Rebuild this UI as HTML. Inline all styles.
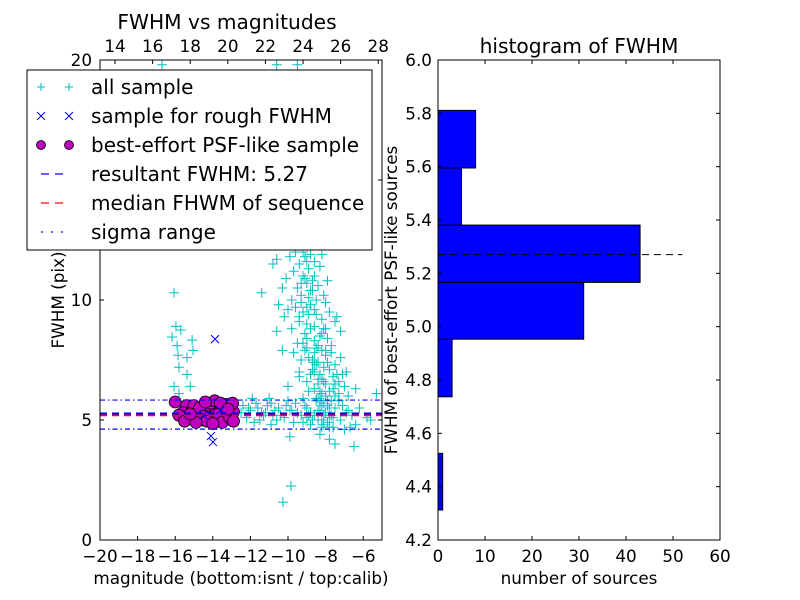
<!DOCTYPE html>
<html><head><meta charset="utf-8"><style>
html,body{margin:0;padding:0;background:#fff;}
svg{display:block;font-family:"DejaVu Sans","Liberation Sans",sans-serif;}
</style></head><body>
<svg id="fig" width="800" height="600" viewBox="0 0 800 600" xmlns="http://www.w3.org/2000/svg">
<rect width="800" height="600" fill="#fff"/>
<g id="left"></g>
<g id="right"></g>
</svg>
<script>
// ---------- scatter data ----------
const allMag = [-9.3,-9.0,-8.7,-9.1,-8.8,-9.5,-8.4,-10.8,-10.6,-9.9,-9.6,-8.2,
-9.7,-9.4,-9.2,-8.9,-8.6,-9.0,-9.5,-8.7,-9.3,-8.4,-10.1,-11.4,-10.5,-9.8,-8.1,-7.9,-9.1,-8.3,-10.3,
-9.6,-9.2,-8.8,-8.5,-9.4,-9.0,-8.6,-8.2,-9.8,-10.2,-10.6,-7.8,-7.5,-9.1,-8.3,-10.0,-8.0,-7.2,
-9.5,-9.0,-8.6,-8.2,-8.9,-8.4,-8.0,-9.3,-7.7,-7.5,-9.7,-8.7,-8.1,-7.2,-6.9,-10.3,-8.5,-7.9,
-8.8,-8.4,-8.0,-7.6,-8.6,-8.2,-7.8,-7.3,-7.0,-9.0,-8.9,-7.5,-6.8,-9.4,-10.0,-7.1,-6.4,-5.3,
-12.4,-12.0,-11.7,-11.4,-11.1,-10.8,-10.5,-10.2,-9.9,-9.6,-9.3,-9.0,-8.7,-8.4,-8.1,-7.8,-7.5,-7.2,-6.9,-6.6,-6.2,-5.8,
-12.2,-11.9,-11.5,-11.0,-10.6,-10.0,-9.7,-9.2,-8.8,-8.5,-8.2,-7.9,-7.6,-7.3,-7.0,-6.7,-8.3,-7.8,-7.5,-9.9,-10.9,-11.8,-12.5,-6.4,-5.6,
-9.84,-10.27,-6.49,-16.7,-10.6,-9.5,
-16.06,-15.96,-16.17,-15.7,-15.1,-15.05,-15.85,-15.8,-15.37,-15.37,-15.2,-16.06,-15.8,-15.9,
-9.2,-9.0,-8.8,-9.1,-8.9,-9.3,-8.7,-9.4,-8.6,-9.0,-8.8,-9.2,-8.5,-9.1,-8.9,-8.7,-9.3,-8.6,-9.0,-8.8,
-8.4,-8.6,-8.2,-8.5,-8.3,-8.7,-8.1,-8.4,-8.6,-8.2,-8.0,-8.3,-8.5,-7.9,-8.1,-8.4,-7.8,-8.2,-8.0,-7.7,
-8.3,-8.1,-7.9,-7.6,-8.0,-7.8,-7.4,-7.7,-8.2,-7.5,-7.9,-7.3,-8.1,-7.6,-7.8,-8.4,-8.6,-8.8,-9.0,-9.2,
-11.6,-11.2,-10.9,-10.4,-10.1,-9.8,-9.5,-9.1,-8.9,-8.3,-7.7,-7.1,-6.8,-10.7,-11.3,-12.1,-9.4,-8.6,-8.0,-7.4];
const allFwhm = [13.2,12.9,13.4,12.5,12.2,12.4,12.7,11.5,11.7,11.8,12.0,11.9,
11.2,11.5,11.0,11.3,11.0,10.7,10.5,10.4,10.2,10.6,10.9,10.3,9.8,10.0,10.2,10.8,11.8,11.4,10.5,
9.7,9.5,9.8,9.4,9.1,9.0,8.9,9.2,8.8,9.3,8.7,9.5,9.1,8.6,8.5,9.6,9.9,8.7,
8.2,8.0,8.3,7.9,7.6,7.4,7.7,7.5,8.1,7.3,7.8,7.1,7.2,7.6,7.0,7.9,8.0,8.4,
6.9,6.7,6.5,6.8,6.3,6.1,6.2,6.6,6.4,6.6,6.2,6.0,6.0,6.8,6.4,6.9,6.3,6.1,
5.6,5.4,5.7,5.3,5.6,5.2,5.5,5.1,5.4,5.7,5.2,5.5,5.0,5.4,5.7,5.1,5.5,5.0,5.3,5.2,5.5,5.1,
5.1,5.9,5.0,5.9,5.0,5.8,4.9,5.9,4.8,5.9,4.7,5.8,4.7,5.8,4.6,4.7,4.4,4.2,4.0,4.3,4.8,4.9,5.3,4.8,5.0,
2.25,1.58,3.9,19.8,19.8,19.8,
10.3,8.9,8.46,8.75,8.33,7.9,7.7,7.2,7.6,6.9,6.4,6.4,6.1,8.1,
12.0,11.6,11.9,10.9,10.1,9.9,10.8,9.3,9.6,8.4,8.8,8.2,10.0,7.9,9.4,12.3,10.7,11.6,9.7,10.4,
8.1,7.8,8.6,7.3,6.9,7.5,8.8,6.5,7.0,6.7,7.9,6.2,5.8,7.4,6.6,5.9,7.1,5.6,6.0,7.8,
5.4,5.2,5.6,6.3,5.3,5.5,6.9,5.8,5.0,6.5,4.9,6.1,4.8,5.1,4.7,5.0,5.2,5.3,5.1,4.9,
5.5,5.3,5.7,5.2,5.6,5.4,5.3,5.6,5.2,5.8,5.2,5.6,5.4,5.4,5.2,5.5,7.0,7.4,8.8,9.3];
const roughMag = [-13.88,-14.1,-13.99,-14.5,-13.6];
const roughFwhm = [8.37,4.33,4.08,5.2,5.4];
const psfMag = [-16.0,-15.4,-15.1,-14.8,-14.6,-14.4,-14.2,-14.0,-13.8,-13.6,-13.4,-13.2,-13.0,-12.9,-15.6,-15.3,-15.0,-14.7,-14.5,-14.3,-14.1,-13.9,-13.7,-13.5,-13.3,-13.1,-12.95,-15.8,-15.5,-14.9,-14.0,-13.6,-12.9,-15.2,-14.4,-13.2];
const psfFwhm = [5.75,5.6,5.4,5.2,5.0,5.3,5.6,5.1,5.4,5.0,5.5,5.2,5.0,5.35,5.3,5.1,5.6,5.5,5.15,4.95,5.7,5.8,5.25,4.9,5.65,5.1,5.7,5.2,4.95,4.9,4.85,5.7,4.95,5.25,5.75,5.45];
const resultFwhm = 5.27;
const medianFwhm = 5.2;
const sigmaRange = [4.62, 5.83];
const bottomTicks = [-20,-18,-16,-14,-12,-10,-8,-6];
const topTicks = [14,16,18,20,22,24,26,28];
const leftYTicks = [0,5,10,15,20];
// ---------- histogram data ----------
const binEdges = [4.3125,4.525,4.737,4.953,5.166,5.381,5.595,5.811];
const binCounts = [1,0,3,31,43,5,8];
const histXTicks = [0,10,20,30,40,50,60];
const histYTicks = [4.2,4.4,4.6,4.8,5.0,5.2,5.4,5.6,5.8,6.0];

const NS='http://www.w3.org/2000/svg';
const TF=16.8, TT=20.2, LF=20;
function mk(parent,tag,attrs,text){const e=document.createElementNS(NS,tag);for(const k in attrs)e.setAttribute(k,attrs[k]);if(text!==undefined)e.textContent=text;parent.appendChild(e);return e;}
const fmt=v=>(v<0?'\u2212':'')+Math.abs(v);

// ---------- left panel ----------
const L=document.getElementById('left');
const lx0=100,lx1=382,ly0=60,ly1=540;
const sx=m=>lx0+(m+20)*(lx1-lx0)/15;
const sxTop=c=>sx(c-33.2);
const sy=f=>ly1-f*(ly1-ly0)/20;
let clip=mk(L,'clipPath',{id:'lclip'});mk(clip,'rect',{x:lx0,y:ly0,width:lx1-lx0,height:ly1-ly0});
const pts=mk(L,'g',{'clip-path':'url(#lclip)'});


for(let i=0;i<allMag.length;i++){const x=sx(allMag[i]),y=sy(allFwhm[i]);
 const p=mk(pts,'path',{d:`M${x-5},${y}H${x+5}M${x},${y-5}V${y+5}`,stroke:'#00bfbf','stroke-width':1,fill:'none'});
 
 }
for(let i=0;i<psfMag.length;i++){const c=mk(pts,'circle',{cx:sx(psfMag[i]),cy:sy(psfFwhm[i]),r:6,fill:'#bf00bf',stroke:'#000','stroke-width':0.8});
 
 }
for(let i=0;i<roughMag.length;i++){const x=sx(roughMag[i]),y=sy(roughFwhm[i]);
 const p=mk(pts,'path',{d:`M${x-4},${y-4}L${x+4},${y+4}M${x-4},${y+4}L${x+4},${y-4}`,stroke:'#0000ff','stroke-width':1});
 
 }
let ln=mk(pts,'line',{x1:lx0,x2:lx1,y1:sy(medianFwhm),y2:sy(medianFwhm),stroke:'#ff0000','stroke-width':2,'stroke-dasharray':'7,5'});

ln=mk(pts,'line',{x1:lx0,x2:lx1,y1:sy(resultFwhm),y2:sy(resultFwhm),stroke:'#0000ff','stroke-width':2,'stroke-dasharray':'7,5'});

for(const s of sigmaRange){ln=mk(pts,'line',{x1:lx0,x2:lx1,y1:sy(s),y2:sy(s),stroke:'#0000ff','stroke-width':1.2,'stroke-dasharray':'5,3,1.5,3'});
 }
mk(L,'rect',{x:lx0,y:ly0,width:lx1-lx0,height:ly1-ly0,fill:'none',stroke:'#000','stroke-width':1});
const tk=mk(L,'g',{stroke:'#000','stroke-width':1});
for(const t of bottomTicks){const x=sx(t);mk(tk,'line',{x1:x,x2:x,y1:ly1,y2:ly1-4});
 const e=mk(L,'text',{x:x,y:ly1+22,'text-anchor':'middle','font-size':TF},fmt(t));}
for(const t of topTicks){const x=sxTop(t);mk(tk,'line',{x1:x,x2:x,y1:ly0,y2:ly0+4});
 const e=mk(L,'text',{x:x,y:ly0-8,'text-anchor':'middle','font-size':TF},fmt(t));}
for(const t of leftYTicks){const y=sy(t);mk(tk,'line',{x1:lx0,x2:lx0+4,y1:y,y2:y});mk(tk,'line',{x1:lx1,x2:lx1-4,y1:y,y2:y});
 const e=mk(L,'text',{x:lx0-8,y:y+6,'text-anchor':'end','font-size':TF},fmt(t));}
let t=mk(L,'text',{x:227,y:29,'text-anchor':'middle','font-size':TT},'FWHM vs magnitudes');
t=mk(L,'text',{x:241,y:584,'text-anchor':'middle','font-size':TF},'magnitude (bottom:isnt / top:calib)');
t=mk(L,'text',{x:0,y:0,'text-anchor':'middle','font-size':TF,transform:'translate(64,300) rotate(-90)'},'FWHM (pix)');
// legend
const lg=mk(L,'g',{});

mk(lg,'rect',{x:27,y:70,width:345,height:180,fill:'#fff',stroke:'#000','stroke-width':1});
const labels=['all sample','sample for rough FWHM','best-effort PSF-like sample','resultant FWHM: 5.27','median FHWM of sequence','sigma range'];
labels.forEach((lab,i)=>{const y=87+i*29;
 const g=mk(lg,'g',{});
 
 
 [41,69].forEach(x=>{
  if(i==0)mk(g,'path',{d:`M${x-4},${y}H${x+4}M${x},${y-4}V${y+4}`,stroke:'#00bfbf'});
  if(i==1)mk(g,'path',{d:`M${x-4},${y-4}L${x+4},${y+4}M${x-4},${y+4}L${x+4},${y-4}`,stroke:'#0000ff'});
  if(i==2)mk(g,'circle',{cx:x,cy:y,r:4.5,fill:'#bf00bf',stroke:'#000','stroke-width':0.8});});
 if(i==3)mk(g,'line',{x1:41,x2:69,y1:y,y2:y,stroke:'#0000ff','stroke-width':1.3,'stroke-dasharray':'8,6'});
 if(i==4)mk(g,'line',{x1:41,x2:69,y1:y,y2:y,stroke:'#ff0000','stroke-width':1.3,'stroke-dasharray':'8,6'});
 if(i==5)mk(g,'line',{x1:41,x2:69,y1:y,y2:y,stroke:'#0000ff','stroke-width':1.3,'stroke-dasharray':'2,8'});
 mk(g,'text',{x:91,y:y+7,'font-size':LF},lab);});

// ---------- right panel ----------
const R=document.getElementById('right');
const hx0=438,hx1=720,hy0=60,hy1=540;
const hx=c=>hx0+c*(hx1-hx0)/60;
const hy=v=>hy1-(v-4.2)*(hy1-hy0)/1.8;
binCounts.forEach((c,i)=>{if(c<=0)return;const r=mk(R,'rect',{x:hx(0),y:hy(binEdges[i+1]),width:hx(c)-hx(0),height:hy(binEdges[i])-hy(binEdges[i+1]),fill:'#0000ff',stroke:'#000','stroke-width':1});
 
 });
ln=mk(R,'line',{x1:hx(0),x2:hx(52),y1:hy(resultFwhm),y2:hy(resultFwhm),stroke:'#000','stroke-width':1,'stroke-dasharray':'7,5'});

mk(R,'rect',{x:hx0,y:hy0,width:hx1-hx0,height:hy1-hy0,fill:'none',stroke:'#000','stroke-width':1});
const tk2=mk(R,'g',{stroke:'#000','stroke-width':1});
for(const v of histXTicks){const x=hx(v);mk(tk2,'line',{x1:x,x2:x,y1:hy1,y2:hy1-4});mk(tk2,'line',{x1:x,x2:x,y1:hy0,y2:hy0+4});
 const e=mk(R,'text',{x:x,y:hy1+22,'text-anchor':'middle','font-size':TF},String(v));}
for(const v of histYTicks){const y=hy(v);mk(tk2,'line',{x1:hx0,x2:hx0+4,y1:y,y2:y});mk(tk2,'line',{x1:hx1,x2:hx1-4,y1:y,y2:y});
 const e=mk(R,'text',{x:hx0-6,y:y+6,'text-anchor':'end','font-size':TF},v.toFixed(1));}
t=mk(R,'text',{x:579,y:53,'text-anchor':'middle','font-size':TT},'histogram of FWHM');
t=mk(R,'text',{x:579,y:584,'text-anchor':'middle','font-size':TF},'number of sources');
t=mk(R,'text',{x:0,y:0,'text-anchor':'middle','font-size':TF,transform:'translate(397,300) rotate(-90)'},'FWHM of best-effort PSF-like sources');
</script>
</body></html>
